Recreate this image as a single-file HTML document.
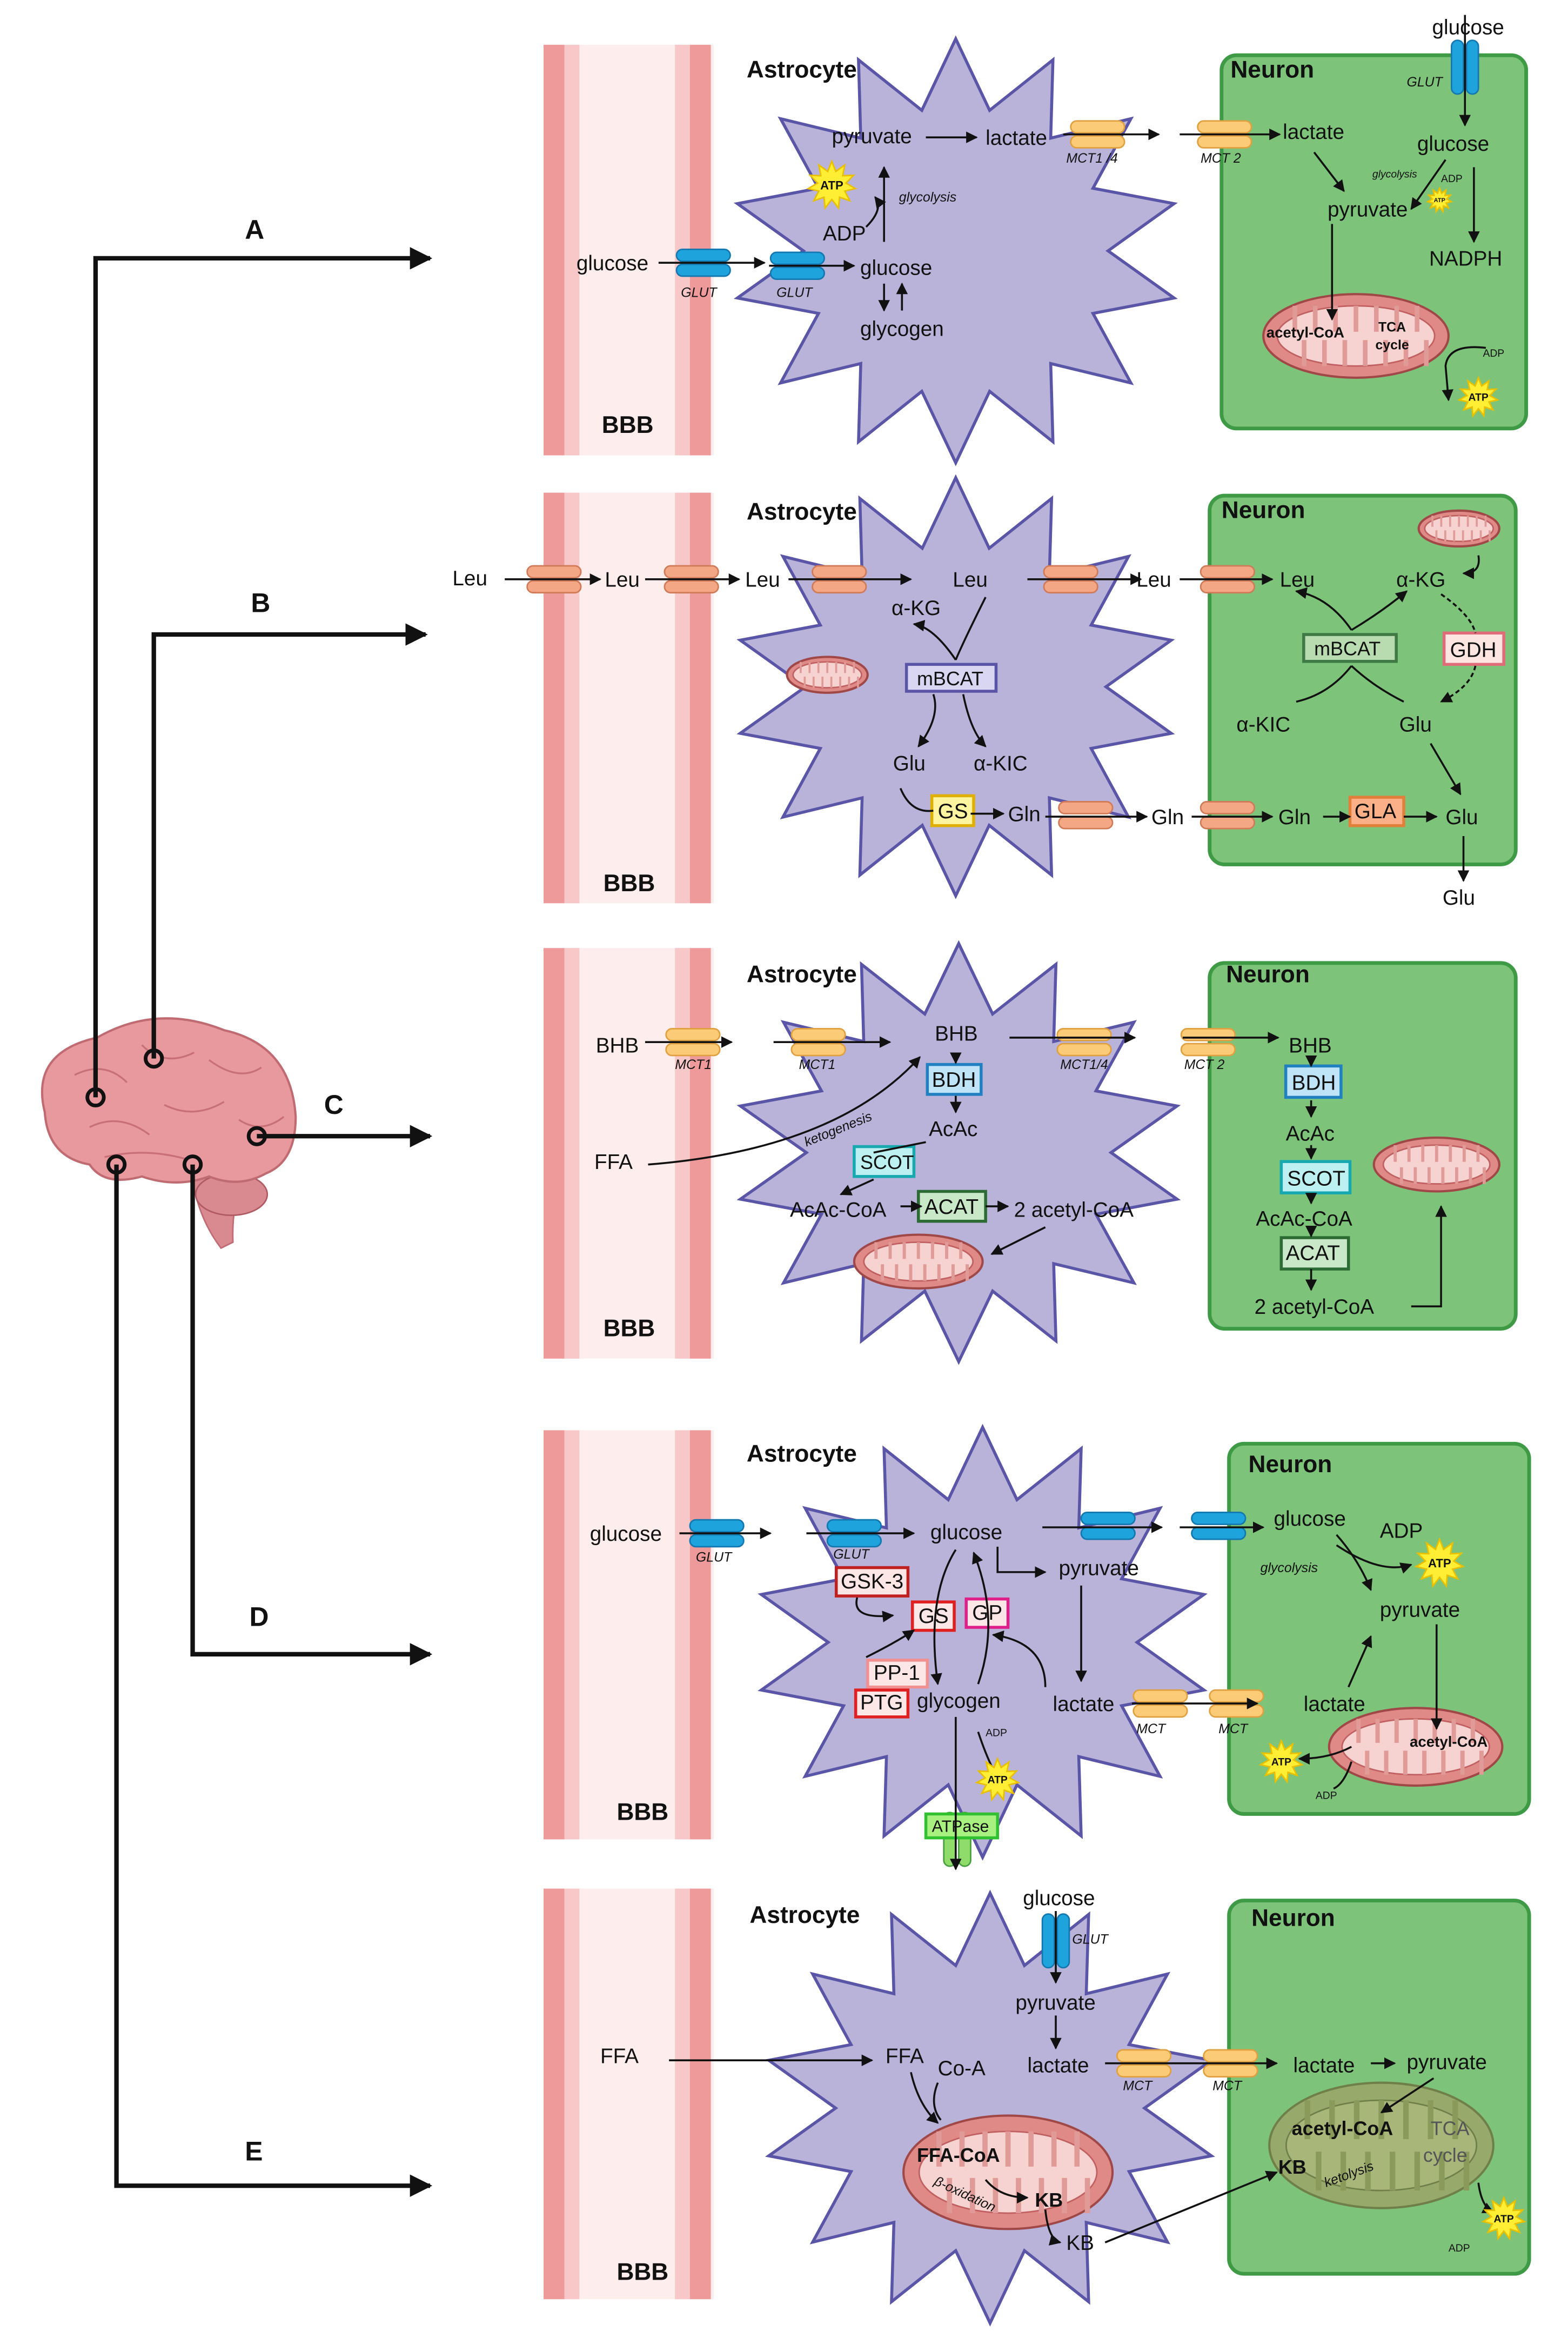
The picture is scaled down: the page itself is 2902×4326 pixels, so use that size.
<!DOCTYPE html>
<html><head><meta charset="utf-8"><style>
html,body{margin:0;padding:0;background:#fff;}
svg{display:block;}
text{font-family:"Liberation Sans",sans-serif;fill:#111;}
.t{font-size:14px;}
.b{font-weight:bold;}
.h{font-size:16px;font-weight:bold;}
.s{font-size:9px;font-style:italic;}
.xs{font-size:7px;}
.L{font-size:18px;font-weight:bold;}
</style></head><body>
<svg id="sv" width="2902" height="4326" viewBox="0 0 1050 1566" preserveAspectRatio="none" xmlns="http://www.w3.org/2000/svg">
<defs>
<marker id="a" viewBox="0 0 10 10" refX="9" refY="5" markerWidth="6" markerHeight="6" orient="auto"><path d="M0,0L10,5L0,10z" fill="#111"/></marker>
<marker id="A" viewBox="0 0 10 10" refX="9" refY="5" markerWidth="5" markerHeight="5" orient="auto"><path d="M0,0L10,5L0,10z" fill="#111"/></marker>
</defs>
<g id="bg"></g>
<g id="ar" fill="none" stroke="#111" stroke-width="1.3">
<g stroke-width="3">
<path d="M64,735V173H288" marker-end="url(#A)"/>
<path d="M103,709V425H285" marker-end="url(#A)"/>
<path d="M172,761H288" marker-end="url(#A)"/>
<path d="M129,780V1108H288" marker-end="url(#A)"/>
<path d="M78,780V1464H288" marker-end="url(#A)"/>
</g>
<path d="M441,176H512" marker-end="url(#a)"/>
<path d="M515,178H572" marker-end="url(#a)"/>
<path d="M592,190V208" marker-end="url(#a)"/>
<path d="M604,208V190" marker-end="url(#a)"/>
<path d="M592,162V112" marker-end="url(#a)"/>
<path d="M580,152Q592,140 586,132" marker-end="url(#a)"/>
<path d="M620,92H654" marker-end="url(#a)"/>
<path d="M712,90H776" marker-end="url(#a)"/>
<path d="M790,90H857" marker-end="url(#a)"/>
<path d="M981,10V84" marker-end="url(#a)"/>
<path d="M880,102L900,128" marker-end="url(#a)"/>
<path d="M968,107L945,140" marker-end="url(#a)"/>
<path d="M987,112V162" marker-end="url(#a)"/>
<path d="M892,150V214" marker-end="url(#a)"/>
<path d="M995,233Q970,230 968,245L970,268" marker-end="url(#a)"/>
<path d="M338,388H402" marker-end="url(#a)"/>
<path d="M432,388H495" marker-end="url(#a)"/>
<path d="M528,388H610" marker-end="url(#a)"/>
<path d="M688,388H764" marker-end="url(#a)"/>
<path d="M790,388H852" marker-end="url(#a)"/>
<path d="M660,400Q645,430 640,442"/>
<path d="M640,442Q625,420 612,418" marker-end="url(#a)"/>
<path d="M625,465Q630,480 615,500" marker-end="url(#a)"/>
<path d="M645,465Q650,490 660,500" marker-end="url(#a)"/>
<path d="M603,528Q610,545 625,543"/>
<path d="M650,545H672" marker-end="url(#a)"/>
<path d="M700,547H768" marker-end="url(#a)"/>
<path d="M798,547H852" marker-end="url(#a)"/>
<path d="M886,547H904" marker-end="url(#a)"/>
<path d="M940,547H962" marker-end="url(#a)"/>
<path d="M980,560V590" marker-end="url(#a)"/>
<path d="M958,498L978,532" marker-end="url(#a)"/>
<path d="M905,422Q890,400 868,396" marker-end="url(#a)"/>
<path d="M905,422Q925,410 942,396" marker-end="url(#a)"/>
<path d="M905,446Q890,465 868,470"/>
<path d="M905,446Q920,460 940,470"/>
<path d="M990,372Q992,384 980,384" marker-end="url(#a)"/>
<path d="M965,398Q985,412 988,424" stroke-dasharray="3,2"/>
<path d="M988,446Q985,460 965,470" stroke-dasharray="3,2" marker-end="url(#a)"/>
<path d="M432,698H490" marker-end="url(#a)"/>
<path d="M518,698H596" marker-end="url(#a)"/>
<path d="M640,706V712" marker-end="url(#a)"/>
<path d="M640,734V745" marker-end="url(#a)"/>
<path d="M620,765L585,772"/>
<path d="M585,790L563,800" marker-end="url(#a)"/>
<path d="M603,808H617" marker-end="url(#a)"/>
<path d="M660,808H675" marker-end="url(#a)"/>
<path d="M700,822L664,840" marker-end="url(#a)"/>
<path d="M434,780Q560,770 616,708" marker-end="url(#a)"/>
<path d="M676,695H760" marker-end="url(#a)"/>
<path d="M792,695H856" marker-end="url(#a)"/>
<path d="M878,708V714" marker-end="url(#a)"/>
<path d="M878,737V748" marker-end="url(#a)"/>
<path d="M878,767V776" marker-end="url(#a)"/>
<path d="M878,800V806" marker-end="url(#a)"/>
<path d="M878,826V828" marker-end="url(#a)"/>
<path d="M878,850V864" marker-end="url(#a)"/>
<path d="M945,875H965V808" marker-end="url(#a)"/>
<path d="M455,1027H516" marker-end="url(#a)"/>
<path d="M540,1027H612" marker-end="url(#a)"/>
<path d="M698,1023H778" marker-end="url(#a)"/>
<path d="M790,1023H846" marker-end="url(#a)"/>
<path d="M668,1036V1053H700" marker-end="url(#a)"/>
<path d="M724,1062V1126" marker-end="url(#a)"/>
<path d="M758,1141H842" marker-end="url(#a)"/>
<path d="M895,1028Q910,1045 918,1065" marker-end="url(#a)"/>
<path d="M895,1035Q925,1055 945,1048" marker-end="url(#a)"/>
<path d="M962,1088V1158" marker-end="url(#a)"/>
<path d="M903,1130L918,1096" marker-end="url(#a)"/>
<path d="M905,1170Q890,1178 870,1178" marker-end="url(#a)"/>
<path d="M905,1180Q900,1195 893,1198"/>
<path d="M640,1038Q620,1070 628,1128" marker-end="url(#a)"/>
<path d="M655,1128Q670,1085 652,1040" marker-end="url(#a)"/>
<path d="M574,1070Q570,1085 598,1082" marker-end="url(#a)"/>
<path d="M580,1110Q600,1100 612,1092" marker-end="url(#a)"/>
<path d="M640,1150V1252" marker-end="url(#a)"/>
<path d="M655,1160Q660,1175 665,1185"/>
<path d="M700,1130Q700,1100 665,1095" marker-end="url(#a)"/>
<path d="M448,1380H584" marker-end="url(#a)"/>
<path d="M707,1280V1328" marker-end="url(#a)"/>
<path d="M707,1350V1372" marker-end="url(#a)"/>
<path d="M740,1382H855" marker-end="url(#a)"/>
<path d="M918,1382H934" marker-end="url(#a)"/>
<path d="M960,1392L925,1415" marker-end="url(#a)"/>
<path d="M610,1388Q615,1410 628,1422" marker-end="url(#a)"/>
<path d="M628,1395Q622,1410 630,1420"/>
<path d="M660,1460Q670,1472 688,1472" marker-end="url(#a)"/>
<path d="M700,1480Q702,1500 710,1502" marker-end="url(#a)"/>
<path d="M740,1502L855,1455" marker-end="url(#a)"/>
<path d="M990,1462Q992,1478 1000,1482" marker-end="url(#a)"/>
</g>
<g id="tx">
<text class="L" x="164" y="160">A</text>
<text class="L" x="168" y="410">B</text>
<text class="L" x="217" y="746">C</text>
<text class="L" x="167" y="1089">D</text>
<text class="L" x="164" y="1447">E</text>
<text class="h" x="403" y="290">BBB</text>
<text class="h" x="404" y="597">BBB</text>
<text class="h" x="404" y="895">BBB</text>
<text class="h" x="413" y="1219">BBB</text>
<text class="h" x="413" y="1527">BBB</text>
<text class="h" x="500" y="52">Astrocyte</text>
<text class="h" x="500" y="348">Astrocyte</text>
<text class="h" x="500" y="658">Astrocyte</text>
<text class="h" x="500" y="979">Astrocyte</text>
<text class="h" x="502" y="1288">Astrocyte</text>
<text class="h" x="824" y="52">Neuron</text>
<text class="h" x="818" y="347">Neuron</text>
<text class="h" x="821" y="658">Neuron</text>
<text class="h" x="836" y="986">Neuron</text>
<text class="h" x="838" y="1290">Neuron</text>
<text class="t" x="386" y="181">glucose</text>
<text class="s" x="456" y="199">GLUT</text>
<text class="s" x="520" y="199">GLUT</text>
<text class="t" x="576" y="184">glucose</text>
<text class="t" x="576" y="225">glycogen</text>
<text class="t" x="551" y="161">ADP</text>
<text class="s" x="602" y="135">glycolysis</text>
<text class="t" x="557" y="96">pyruvate</text>
<text class="t" x="660" y="97">lactate</text>
<text class="s" x="714" y="109">MCT1 /4</text>
<text class="s" x="804" y="109">MCT 2</text>
<text class="t" x="859" y="93">lactate</text>
<text class="t" x="959" y="23">glucose</text>
<text class="s" x="942" y="58">GLUT</text>
<text class="t" x="949" y="101">glucose</text>
<text class="xs" style="font-style:italic" x="919" y="119">glycolysis</text>
<text class="xs" x="965" y="122">ADP</text>
<text class="t" x="889" y="145">pyruvate</text>
<text class="t" x="957" y="178">NADPH</text>
<text class="b" style="font-size:10px" x="848" y="226">acetyl-CoA</text>
<text class="b" style="font-size:9px" x="923" y="222">TCA</text>
<text class="b" style="font-size:9px" x="921" y="234">cycle</text>
<text class="xs" x="993" y="239">ADP</text>
<text class="t" x="303" y="392">Leu</text>
<text class="t" x="405" y="393">Leu</text>
<text class="t" x="499" y="393">Leu</text>
<text class="t" x="638" y="393">Leu</text>
<text class="t" x="761" y="393">Leu</text>
<text class="t" x="857" y="393">Leu</text>
<text class="t" x="597" y="412">α-KG</text>
<text class="t" x="935" y="393">α-KG</text>
<text class="t" x="614" y="459" style="font-size:13px">mBCAT</text>
<text class="t" x="880" y="439" style="font-size:13px">mBCAT</text>
<text class="t" x="971" y="440">GDH</text>
<text class="t" x="598" y="516">Glu</text>
<text class="t" x="652" y="516">α-KIC</text>
<text class="t" x="828" y="490">α-KIC</text>
<text class="t" x="937" y="490">Glu</text>
<text class="t" x="628" y="548">GS</text>
<text class="t" x="675" y="550">Gln</text>
<text class="t" x="771" y="552">Gln</text>
<text class="t" x="856" y="552">Gln</text>
<text class="t" x="907" y="548">GLA</text>
<text class="t" x="968" y="552">Glu</text>
<text class="t" x="966" y="606">Glu</text>
<text class="t" x="399" y="705">BHB</text>
<text class="s" x="452" y="716">MCT1</text>
<text class="s" x="535" y="716">MCT1</text>
<text class="t" x="626" y="697">BHB</text>
<text class="t" x="624" y="728">BDH</text>
<text class="t" x="622" y="761">AcAc</text>
<text class="t" x="576" y="783" style="font-size:13px">SCOT</text>
<text class="t" x="529" y="815">AcAc-CoA</text>
<text class="t" x="619" y="813">ACAT</text>
<text class="t" x="679" y="815">2 acetyl-CoA</text>
<text class="t" x="398" y="783">FFA</text>
<text class="s" transform="translate(540,768) rotate(-22)">ketogenesis</text>
<text class="s" x="710" y="716">MCT1/4</text>
<text class="s" x="793" y="716">MCT 2</text>
<text class="t" x="863" y="705">BHB</text>
<text class="t" x="865" y="730">BDH</text>
<text class="t" x="861" y="764">AcAc</text>
<text class="t" x="862" y="794">SCOT</text>
<text class="t" x="841" y="821">AcAc-CoA</text>
<text class="t" x="861" y="844">ACAT</text>
<text class="t" x="840" y="880">2 acetyl-CoA</text>
<text class="t" x="395" y="1032">glucose</text>
<text class="s" x="466" y="1046">GLUT</text>
<text class="s" x="558" y="1044">GLUT</text>
<text class="t" x="623" y="1031">glucose</text>
<text class="t" x="853" y="1022">glucose</text>
<text class="t" x="924" y="1030">ADP</text>
<text class="s" x="844" y="1053">glycolysis</text>
<text class="t" x="924" y="1083">pyruvate</text>
<text class="t" x="873" y="1146">lactate</text>
<text class="t" x="709" y="1055">pyruvate</text>
<text class="t" x="705" y="1146">lactate</text>
<text class="s" x="761" y="1161">MCT</text>
<text class="s" x="816" y="1161">MCT</text>
<text class="t" x="563" y="1064">GSK-3</text>
<text class="t" x="615" y="1087">GS</text>
<text class="t" x="651" y="1085">GP</text>
<text class="t" x="585" y="1125">PP-1</text>
<text class="t" x="576" y="1145">PTG</text>
<text class="t" x="614" y="1144">glycogen</text>
<text class="xs" x="660" y="1163">ADP</text>
<text class="t" style="font-size:11px" x="624" y="1227">ATPase</text>
<text class="b" style="font-size:10px" x="944" y="1170">acetyl-CoA</text>
<text class="xs" x="881" y="1205">ADP</text>
<text class="t" x="402" y="1382">FFA</text>
<text class="t" x="685" y="1276">glucose</text>
<text class="s" x="718" y="1302">GLUT</text>
<text class="t" x="680" y="1346">pyruvate</text>
<text class="t" x="688" y="1388">lactate</text>
<text class="s" x="752" y="1400">MCT</text>
<text class="s" x="812" y="1400">MCT</text>
<text class="t" x="866" y="1388">lactate</text>
<text class="t" x="942" y="1386">pyruvate</text>
<text class="t" x="593" y="1382">FFA</text>
<text class="t" x="628" y="1390">Co-A</text>
<text class="b" style="font-size:13px" x="614" y="1448">FFA-CoA</text>
<text class="s" transform="translate(625,1463) rotate(25)">β-oxidation</text>
<text class="b" style="font-size:13px" x="693" y="1478">KB</text>
<text class="t" x="714" y="1507">KB</text>
<text class="b" style="font-size:13px" x="865" y="1430">acetyl-CoA</text>
<text class="t" style="font-size:13px;fill:#555" x="958" y="1430">TCA</text>
<text class="t" style="font-size:13px;fill:#555" x="953" y="1448">cycle</text>
<text class="b" style="font-size:13px" x="856" y="1456">KB</text>
<text class="s" transform="translate(888,1465) rotate(-20)">ketolysis</text>
<text class="xs" x="970" y="1508">ADP</text>
</g>
<g id="atp"></g>
</svg>
<script>
var NS="http://www.w3.org/2000/svg",bg=document.getElementById("bg"),atp=document.getElementById("atp");
function el(t,a,p){var e=document.createElementNS(NS,t);for(var k in a)e.setAttribute(k,a[k]);(p||bg).appendChild(e);return e;}
function star(cx,cy,rx,ry,n,k,f,s,sw,p){var pts=[];for(var i=0;i<2*n;i++){var ang=Math.PI*i/n-Math.PI/2;var r=i%2?k:1;pts.push((cx+Math.cos(ang)*rx*r).toFixed(1)+","+(cy+Math.sin(ang)*ry*r).toFixed(1));}return el("polygon",{points:pts.join(" "),fill:f,stroke:s,"stroke-width":sw,"stroke-linejoin":"miter"},p);}
[[30,305],[330,605],[635,910],[958,1232],[1265,1540]].forEach(function(r){var h=r[1]-r[0];
el("rect",{x:364,y:r[0],width:114,height:h,fill:"#fdeded"});
el("rect",{x:364,y:r[0],width:14,height:h,fill:"#ef9a9a"});
el("rect",{x:378,y:r[0],width:10,height:h,fill:"#f8c8c8"});
el("rect",{x:452,y:r[0],width:10,height:h,fill:"#f8c8c8"});
el("rect",{x:462,y:r[0],width:14,height:h,fill:"#ef9a9a"});});
// brain
el("path",{d:"M128,785Q132,815 148,836L156,832Q155,810 162,790Z",fill:"#d98a90",stroke:"#c06b72"});
el("ellipse",{cx:155,cy:800,rx:24,ry:14,fill:"#d88a90",stroke:"#b05a63"});
el("path",{d:"M30,745Q20,705 65,695Q105,672 150,690Q195,700 198,748Q198,778 178,786Q160,796 140,788Q118,796 95,788Q70,795 60,780Q32,775 30,745Z",fill:"#e8999d",stroke:"#c06b72","stroke-width":1.5});
["M50,720Q70,710 85,725","M95,700Q110,715 130,705","M140,710Q160,725 175,715","M60,755Q80,745 100,760","M110,740Q130,750 150,738","M160,750Q175,760 190,748","M70,775Q100,768 130,778"].forEach(function(d){el("path",{d:d,fill:"none",stroke:"#c87077","stroke-width":1.2});});
[[64,735],[103,709],[172,761],[129,780],[78,780]].forEach(function(c){el("circle",{cx:c[0],cy:c[1],r:5.5,fill:"#e8999d",stroke:"#111","stroke-width":2.5});});
[[818,37,204,250],[810,332,205,247],[810,645,205,245],[823,967,201,248],[823,1273,201,250]].forEach(function(b){el("rect",{x:b[0],y:b[1],width:b[2],height:b[3],rx:10,fill:"#7dc47a",stroke:"#3f9a45","stroke-width":2.5});});
star(640,168,150,142,14,0.68,"#b9b3da","#5a55a6",2);
star(640,460,148,140,14,0.68,"#b9b3da","#5a55a6",2);
star(642,772,150,140,14,0.68,"#b9b3da","#5a55a6",2);
star(658,1100,152,144,14,0.68,"#b9b3da","#5a55a6",2);
star(663,1412,152,144,14,0.68,"#b9b3da","#5a55a6",2);
function mito(cx,cy,rx,ry,f,s){el("ellipse",{cx:cx,cy:cy,rx:rx,ry:ry,fill:f||"#e08a88",stroke:s||"#a04848","stroke-width":1.5});el("ellipse",{cx:cx,cy:cy,rx:rx*0.85,ry:ry*0.72,fill:f?"#a9b67a":"#f6d3d0",stroke:s||"#c06060","stroke-width":1});
var c=f?"#8a9a5a":"#e09a98";
for(var i=-3;i<=3;i++){el("line",{x1:cx+i*rx*0.22,y1:cy-ry*0.72,x2:cx+i*rx*0.22,y2:cy-ry*0.1,stroke:c,"stroke-width":rx*0.05});el("line",{x1:cx+i*rx*0.22+rx*0.1,y1:cy+ry*0.72,x2:cx+i*rx*0.22+rx*0.1,y2:cy+ry*0.1,stroke:c,"stroke-width":rx*0.05});}}
mito(908,225,62,28);mito(554,452,27,12);mito(977,354,27,12);mito(615,845,43,18);mito(962,780,42,18);mito(948,1170,58,26);mito(675,1455,70,38);mito(925,1437,75,42,"#97a96b","#6f7f4a");
function tr(x,y,c,s,v){if(v){el("rect",{x:x-9,y:y-18,width:8,height:36,rx:4,fill:c,stroke:s});el("rect",{x:x+1,y:y-18,width:8,height:36,rx:4,fill:c,stroke:s});}else{el("rect",{x:x-18,y:y-9,width:36,height:8,rx:4,fill:c,stroke:s});el("rect",{x:x-18,y:y+1,width:36,height:8,rx:4,fill:c,stroke:s});}}
var B="#1ea3dd",BS="#1478b0",Y="#fccb78",YS="#e0a040",O="#f4a785",OS="#d07a58",G="#8fdc6a",GS="#4aa040";
tr(471,176,B,BS);tr(534,178,B,BS);tr(735,90,Y,YS);tr(820,90,Y,YS);tr(981,45,B,BS,1);
tr(371,388,O,OS);tr(463,388,O,OS);tr(562,388,O,OS);tr(717,388,O,OS);tr(822,388,O,OS);tr(727,546,O,OS);tr(822,546,O,OS);
tr(464,698,Y,YS);tr(548,698,Y,YS);tr(726,698,Y,YS);tr(809,698,Y,YS);
tr(480,1027,B,BS);tr(572,1027,B,BS);tr(742,1022,B,BS);tr(816,1022,B,BS);tr(777,1141,Y,YS);tr(828,1141,Y,YS);tr(641,1232,G,GS,1);
tr(707,1300,B,BS,1);tr(766,1382,Y,YS);tr(824,1382,Y,YS);
function box(x,y,w,h,f,s){el("rect",{x:x,y:y,width:w,height:h,fill:f,stroke:s,"stroke-width":2});}
box(607,445,60,18,"#d8d6f0","#5a55a6");box(873,425,62,18,"#b8dcb0","#3f7a45");box(967,424,40,21,"#fde6e2","#e06c7a");
box(624,533,28,20,"#fff5a0","#e0b000");box(904,534,36,19,"#fbb088","#e0803a");
box(621,713,36,20,"#bfe4f8","#2080c0");box(572,768,40,20,"#bdf0f0","#18a8b0");box(615,798,45,20,"#c8e8c8","#2d6b34");
box(861,714,37,21,"#bfe4f8","#2080c0");box(858,778,46,21,"#bdf0f0","#18a8b0");box(858,829,45,21,"#c8e8c8","#2d6b34");
box(560,1050,48,19,"#fde6e6","#c02020");box(611,1073,28,19,"#fde6e6","#e02020");box(647,1071,28,19,"#fde6e6","#e0208a");
box(581,1112,40,18,"#fde6e6","#f09090");box(573,1132,35,18,"#fde6e6","#e02020");box(620,1215,48,16,"#a8f080","#30c030");
function A(x,y,r,fs){star(x,y,r,r,11,0.6,"#ffee33","#e8c000",1,atp);var t=el("text",{x:x,y:y+fs*0.35,"text-anchor":"middle","font-size":fs,"font-weight":"bold"},atp);t.textContent="ATP";}
A(557,124,16,8);A(964,134,8,4);A(990,266,13,7);A(964,1047,16,8);A(858,1180,14,7);A(668,1192,14,7);A(1007,1486,14,7);
</script>
</body></html>
